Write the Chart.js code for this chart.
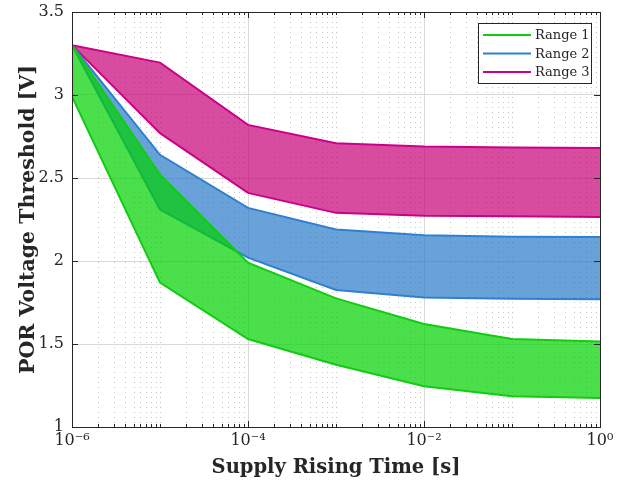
<!DOCTYPE html>
<html>
<head>
<meta charset="utf-8">
<script src="https://cdn.jsdelivr.net/npm/chart.js@4.4.0/dist/chart.umd.min.js"></script>
<style>
  html, body { margin: 0; padding: 0; background: #fff; }
  #wrap { width: 634px; height: 489px; }
</style>
</head>
<body>
<div id="wrap"><canvas id="chart" width="634" height="489"></canvas></div>
<script>
// supply rising time [s]
const riseTimes = [1e-6, 1e-5, 1e-4, 1e-3, 1e-2, 1e-1, 1];

// POR threshold band edges [V]
const range1Upper = [3.30, 2.52, 1.99, 1.775, 1.62, 1.53, 1.515];
const range1Lower = [2.99, 1.87, 1.53, 1.375, 1.245, 1.185, 1.175];
const range2Upper = [3.30, 2.64, 2.32, 2.19, 2.155, 2.146, 2.145];
const range2Lower = [3.30, 2.31, 2.02, 1.825, 1.78, 1.772, 1.77];
const range3Upper = [3.30, 3.195, 2.82, 2.71, 2.69, 2.683, 2.68];
const range3Lower = [3.30, 2.77, 2.41, 2.29, 2.273, 2.27, 2.265];

const rangeNames = ['Range 1', 'Range 2', 'Range 3'];
const lineColors = ['#11cc11', '#2f80d0', '#cc0088'];
const fillColors = ['rgba(0,210,0,0.7)', 'rgba(42,122,200,0.7)', 'rgba(200,0,120,0.7)'];

const xMajorTicks = [1e-6, 1e-4, 1e-2, 1];
const xTickLabels = ['10⁻⁶', '10⁻⁴', '10⁻²', '10⁰'];
const yTicks = [1, 1.5, 2, 2.5, 3, 3.5];

const axisColor = '#262626';
const serif = '"DejaVu Serif", "Liberation Serif", serif';

// every decade step 1..9 for the log grid
const xGridValues = [];
for (let k = -6; k < 0; k++) {
    for (let m = 1; m <= 9; m++) xGridValues.push(Number((m * Math.pow(10, k)).toPrecision(6)));
}
xGridValues.push(1);

const isMajorX = (v) => xMajorTicks.some(m => Math.abs(m - v) / m < 1e-6);

const toPoints = (ys) => riseTimes.map((t, i) => ({ x: t, y: ys[i] }));

const bands = [
    [range1Upper, range1Lower],
    [range2Upper, range2Lower],
    [range3Upper, range3Lower]
];

// upper edge first, lower edge fills up to it; index 0 ends on top
const datasets = [];
bands.forEach(([upper, lower], i) => {
    datasets.push({
        label: rangeNames[i],
        data: toPoints(upper),
        borderColor: lineColors[i],
        borderWidth: 2,
        pointRadius: 0,
        fill: false,
        tension: 0
    });
    datasets.push({
        label: rangeNames[i] + ' low',
        data: toPoints(lower),
        borderColor: lineColors[i],
        borderWidth: 2,
        pointRadius: 0,
        backgroundColor: fillColors[i],
        fill: '-1',
        tension: 0
    });
});

const minorGrid = {
    id: 'minorGrid',
    beforeDatasetsDraw(chart) {
        const { ctx, chartArea, scales } = chart;
        ctx.save();
        ctx.strokeStyle = '#c4c4c4';
        ctx.lineWidth = 1;
        ctx.setLineDash([1, 4]);
        xGridValues.filter(v => !isMajorX(v)).forEach(v => {
            const px = Math.round(scales.x.getPixelForValue(v)) + 0.5;
            ctx.beginPath();
            ctx.moveTo(px, chartArea.top);
            ctx.lineTo(px, chartArea.bottom);
            ctx.stroke();
        });
        ctx.restore();
    }
};

const frame = {
    id: 'frame',
    afterDatasetsDraw(chart) {
        const { ctx, chartArea: a, scales } = chart;
        ctx.save();
        ctx.strokeStyle = axisColor;
        ctx.lineWidth = 1;
        ctx.strokeRect(a.left + 0.5, a.top + 0.5, a.right - a.left, a.bottom - a.top);
        ctx.beginPath();
        xGridValues.forEach(v => {
            const px = Math.round(scales.x.getPixelForValue(v)) + 0.5;
            const len = isMajorX(v) ? 6 : 3;
            ctx.moveTo(px, a.bottom); ctx.lineTo(px, a.bottom - len);
            ctx.moveTo(px, a.top); ctx.lineTo(px, a.top + len);
        });
        yTicks.forEach(v => {
            const py = Math.round(scales.y.getPixelForValue(v)) + 0.5;
            ctx.moveTo(a.left, py); ctx.lineTo(a.left + 6, py);
            ctx.moveTo(a.right, py); ctx.lineTo(a.right - 6, py);
        });
        ctx.stroke();
        ctx.restore();
    }
};

const legendBox = {
    id: 'legendBox',
    afterDraw(chart) {
        const { ctx, chartArea: a } = chart;
        const w = 113, h = 60;
        const x0 = a.right - 9 - w, y0 = a.top + 11;
        ctx.save();
        ctx.fillStyle = '#fff';
        ctx.fillRect(x0, y0, w, h);
        ctx.strokeStyle = axisColor;
        ctx.lineWidth = 1;
        ctx.strokeRect(x0 + 0.5, y0 + 0.5, w, h);
        ctx.font = '13px ' + serif;
        ctx.textBaseline = 'middle';
        ctx.fillStyle = axisColor;
        rangeNames.forEach((name, i) => {
            const y = y0 + 12 + i * 18.5;
            ctx.strokeStyle = lineColors[i];
            ctx.lineWidth = 2;
            ctx.beginPath();
            ctx.moveTo(x0 + 5, y);
            ctx.lineTo(x0 + 53, y);
            ctx.stroke();
            ctx.fillText(name, x0 + 57, y + 1);
        });
        ctx.restore();
    }
};

new Chart(document.getElementById('chart'), {
    type: 'line',
    data: { datasets },
    options: {
        responsive: false,
        animation: false,
        layout: { padding: { top: 12, right: 34, left: 0, bottom: 0 } },
        plugins: {
            legend: { display: false },
            tooltip: { enabled: false }
        },
        scales: {
            x: {
                type: 'logarithmic',
                min: 1e-6,
                max: 1,
                afterBuildTicks: (s) => {
                    s.ticks = xGridValues.map(v => ({ value: v, major: isMajorX(v) }));
                },
                ticks: {
                    autoSkip: false,
                    maxRotation: 0,
                    padding: 4,
                    color: axisColor,
                    font: { family: serif, size: 16 },
                    callback: (v) => {
                        const j = xMajorTicks.findIndex(m => Math.abs(m - v) / m < 1e-6);
                        return j >= 0 ? xTickLabels[j] : '';
                    }
                },
                grid: {
                    drawTicks: false,
                    color: (c) => (c.tick && c.tick.major) ? '#d9d9d9' : 'rgba(0,0,0,0)'
                },
                border: { display: false },
                title: {
                    display: true,
                    text: 'Supply Rising Time [s]',
                    color: axisColor,
                    font: { family: serif, size: 19.5, weight: 'bold' },
                    padding: { top: 0, bottom: 9 }
                },
                afterFit: (s) => { s.height = 62; }
            },
            y: {
                min: 1,
                max: 3.5,
                afterBuildTicks: (s) => {
                    s.ticks = yTicks.map(v => ({ value: v }));
                },
                ticks: {
                    padding: 8,
                    color: axisColor,
                    font: { family: serif, size: 16 },
                    callback: (v) => String(v)
                },
                grid: { drawTicks: false, color: '#d9d9d9' },
                border: { display: false },
                title: {
                    display: true,
                    text: 'POR Voltage Threshold [V]',
                    color: axisColor,
                    font: { family: serif, size: 20.5, weight: 'bold' },
                    padding: { top: 16, bottom: 0 }
                },
                afterFit: (s) => { s.width = 72; s.paddingTop = 0; s.paddingBottom = 0; }
            }
        }
    },
    plugins: [minorGrid, frame, legendBox]
});
</script>
</body>
</html>
